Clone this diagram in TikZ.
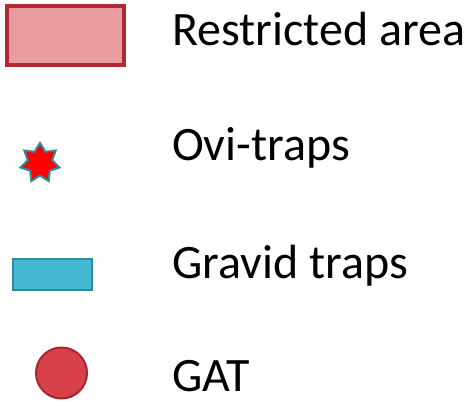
\documentclass[tikz,border=0pt]{standalone}
\usepackage{fontspec}
\setmainfont{Carlito}
\usetikzlibrary{shapes.geometric}
\definecolor{rafill}{HTML}{E99CA0}
\definecolor{radraw}{HTML}{B02A35}
\definecolor{ovifill}{HTML}{FF0000}
\definecolor{ovidraw}{HTML}{2F8A9C}
\definecolor{gtfill}{HTML}{45B9D1}
\definecolor{gtdraw}{HTML}{2E8AA0}
\definecolor{gatfill}{HTML}{D8404A}
\definecolor{gatdraw}{HTML}{A8262F}
\tikzset{
  lbl/.style={anchor=base west, inner sep=0pt, font=\fontsize{48}{54}\selectfont},
  rabox/.style={draw=radraw, fill=rafill, line width=3.4pt},
  ovistar/.style={star, star points=7, star point ratio=1.6, minimum size=40pt, inner sep=0pt, draw=ovidraw, fill=ovifill, line width=2pt},
  gtbox/.style={draw=gtdraw, fill=gtfill, line width=2.2pt},
  gatdot/.style={circle, draw=gatdraw, fill=gatfill, line width=2pt, minimum size=51pt, inner sep=0pt},
}
\begin{document}
\begin{tikzpicture}[x=1pt,y=-1pt]
\useasboundingbox (0,0) rectangle (474,405);
\draw[rabox] (7,6) rectangle (124,65);
\node[ovistar] (ovi) at (40,163) {};
\draw[gtbox] (13,259) rectangle (92,290);
\node[gatdot] (gat) at (61.5,373) {};
\node[lbl] (t1) at (172,45) {Restricted area};
\node[lbl] (t2) at (172,160.5) {Ovi-traps};
\node[lbl] (t3) at (172,278) {Gravid traps};
\node[lbl] (t4) at (172,391.5) {GAT};
\end{tikzpicture}
\end{document}
